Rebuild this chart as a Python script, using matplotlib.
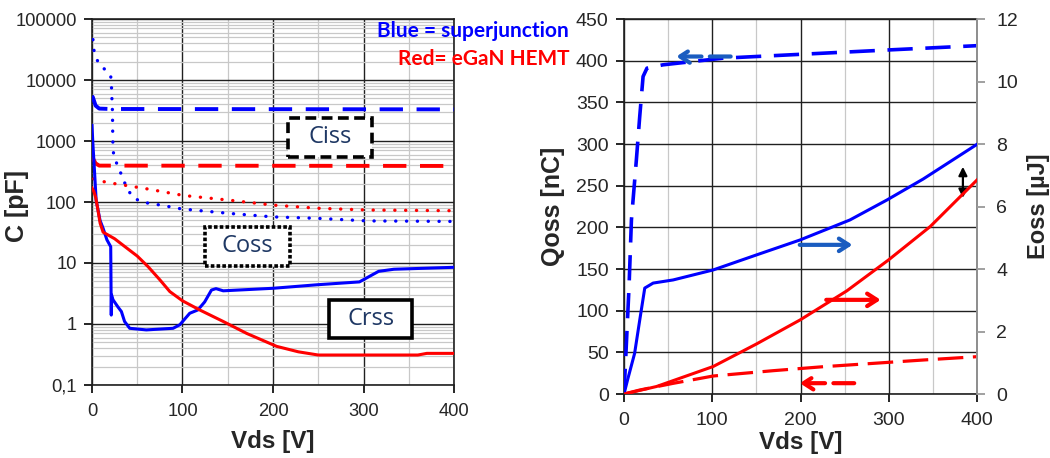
import numpy as np
import matplotlib
matplotlib.use("Agg")
import matplotlib.pyplot as plt
from matplotlib.patches import Rectangle

plt.rcParams['font.family'] = ['Liberation Sans', 'DejaVu Sans']

# ===== left chart: capacitances (log scale) =====
# Ciss
v_ciss_sj = [0, 1, 4, 8, 20, 400]
c_ciss_sj = [5500, 5200, 3800, 3400, 3350, 3300]
v_ciss_gan = [0, 1, 4, 8, 400]
c_ciss_gan = [550, 520, 430, 395, 390]
# Coss
v_coss_sj = [1.1, 1.5, 3.7, 7.4, 14, 20.6, 21.4, 21.8, 22.1, 22.5, 22.7, 23, 24, 29, 35.5,
             44, 54.5, 75.7, 99, 152, 200, 249, 304, 400]
c_coss_sj = [46000, 34000, 25000, 18700, 15000, 12000, 8900, 6300, 4600, 3450, 2450, 1000, 550,
             380, 215, 123, 100, 89, 77, 65, 57, 54, 49, 48]
v_coss_gan = [2, 6, 25, 59, 101, 152, 200, 249, 304, 400]
c_coss_gan = [240, 225, 200, 166, 128, 107, 89, 79, 74, 72]
# Crss
v_crss_sj = [0, 1, 2.5, 4.6, 8.9, 12.3, 16.5, 20.7, 21.3, 21.6, 23.2, 28.7, 32.5, 36, 41.7, 60,
             89.6, 97, 108, 117, 124.5, 132, 137, 145, 200, 249, 295.5, 316.7, 333.6, 400]
c_crss_sj = [1800, 900, 380, 107, 50, 37, 24, 18.5, 1.4, 3.0, 2.5, 1.9, 1.6, 1.1, 0.85, 0.8,
             0.85, 0.97, 1.5, 1.7, 2.3, 3.6, 3.8, 3.5, 3.85, 4.4, 4.9, 7.3, 7.9, 8.5]
v_crss_gan = [0, 2, 4, 6, 9, 12.3, 25, 42, 50, 62, 75, 86, 100, 119, 145, 171, 204, 228, 250,
              300, 360, 370, 400]
c_crss_gan = [170, 150, 120, 83, 45, 32, 25, 16, 13, 8.7, 5.3, 3.4, 2.4, 1.7, 1.1, 0.7, 0.43,
              0.35, 0.31, 0.31, 0.31, 0.33, 0.33]

c_ticks = [0.1, 1, 10, 100, 1000, 10000, 100000]
c_ticklabels = ['0,1', '1', '10', '100', '1000', '10000', '100000']

# ===== right chart: Qoss (left axis) and Eoss (right axis) =====
v_qoss_sj = [0, 2, 5.7, 8.4, 14, 17.8, 21.6, 26, 44, 112, 207, 302, 400]
q_qoss_sj = [0, 45, 129, 209, 281, 333, 381, 391, 395, 403, 408, 413, 418]
v_qoss_gan = [0, 17.8, 55.6, 101, 169, 226, 282.6, 339, 400]
q_qoss_gan = [0, 4.8, 12.8, 21.6, 28, 32.8, 36.8, 40.8, 44.8]
v_eoss_sj = [0, 4, 12, 18, 23.5, 33, 55.6, 101, 150, 199.5, 256, 298, 339, 400]
e_eoss_sj = [0, 0.45, 1.3, 2.4, 3.39, 3.55, 3.65, 3.97, 4.45, 4.93, 5.57, 6.21, 6.88, 7.99]
v_eoss_gan = [0, 36.8, 101, 150, 199.5, 252.4, 299.7, 347, 400]
e_eoss_gan = [0, 0.24, 0.88, 1.6, 2.37, 3.3, 4.29, 5.36, 6.85]

BLUE = '#0000ff'
RED = '#ff0000'
ARROW_BLUE = '#1a5cc0'
TICK_COLOR = '#262626'
BOX_TEXT = '#1f3864'

fig = plt.figure(figsize=(10.5, 4.58), dpi=100)

# ---------------- left ----------------
ax1 = fig.add_axes([0.0876, 0.1594, 0.3448, 0.7991])
ax1.set_yscale('log')
ax1.set_xlim(0, 400)
ax1.set_ylim(0.1, 100000)

ax1.plot(v_ciss_sj, c_ciss_sj, color=BLUE, lw=2.8, dashes=(6, 3.5), zorder=3)
ax1.plot(v_ciss_gan, c_ciss_gan, color=RED, lw=2.8, dashes=(6, 3.5), zorder=3)
ax1.plot(v_coss_sj, c_coss_sj, color=BLUE, lw=2.4, dashes=(0.05, 3.2), dash_capstyle='round', zorder=3)
ax1.plot(v_coss_gan, c_coss_gan, color=RED, lw=2.4, dashes=(0.05, 3.2), dash_capstyle='round', zorder=3)
ax1.plot(v_crss_sj, c_crss_sj, color=BLUE, lw=2.2, zorder=3)
ax1.plot(v_crss_gan, c_crss_gan, color=RED, lw=2.2, zorder=3)

ax1.set_xticks([0, 100, 200, 300, 400])
ax1.set_xticks([50, 150, 250, 350], minor=True)
ax1.set_yticks(c_ticks)
ax1.set_yticklabels(c_ticklabels)
ax1.yaxis.set_minor_locator(matplotlib.ticker.LogLocator(base=10, subs=np.arange(2, 10)))
ax1.yaxis.set_minor_formatter(matplotlib.ticker.NullFormatter())
ax1.grid(True, which='major', color='#202020', lw=1.0)
ax1.grid(True, which='minor', color='#c8c8c8', lw=0.9)
ax1.tick_params(which='major', direction='out', length=6, width=1.2, labelsize=13.2,
                labelcolor=TICK_COLOR, pad=5)
ax1.tick_params(which='minor', length=0)
ax1.tick_params(axis='x', pad=7)
for s in ax1.spines.values():
    s.set_color('#202020')
    s.set_linewidth(1.2)
ax1.set_ylabel('C [pF]', fontsize=18, fontweight='bold', color=TICK_COLOR)
ax1.yaxis.set_label_coords(-0.175, 0.49)
ax1.set_xlabel('Vds [V]', fontsize=17.5, fontweight='bold', color=TICK_COLOR, va='center')
ax1.xaxis.set_label_coords(0.5, -0.155)

# label boxes
boxes = [('Ciss', (0.541, 0.623), 0.232, 0.107, (0, (3, 1.5))),
         ('Coss', (0.3135, 0.326), 0.2325, 0.106, (0, (1, 0.6))),
         ('Crss', (0.655, 0.128), 0.23, 0.104, 'solid')]
for name, (bx, by), bw, bh, ls in boxes:
    ax1.add_patch(Rectangle((bx, by), bw, bh, transform=ax1.transAxes, fc='white', ec='black',
                            lw=2.6, ls=ls, zorder=5))
    ax1.text(bx + bw / 2, by + bh / 2, name, transform=ax1.transAxes, ha='center', va='center',
             fontsize=17, color=BOX_TEXT, family=['Open Sans', 'DejaVu Sans'], zorder=6)

# ---------------- right ----------------
ax2 = fig.add_axes([0.5943, 0.1397, 0.3362, 0.8188])
ax3 = ax2.twinx()
ax2.set_xlim(0, 400)
ax2.set_ylim(0, 450)
ax3.set_ylim(0, 12)

ax2.plot(v_qoss_sj, q_qoss_sj, color=BLUE, lw=2.6, dashes=(7, 3.5), zorder=3)
ax2.plot(v_qoss_gan, q_qoss_gan, color=RED, lw=2.3, dashes=(8, 3), zorder=3)
ax3.plot(v_eoss_sj, e_eoss_sj, color=BLUE, lw=2.2, zorder=3)
ax3.plot(v_eoss_gan, e_eoss_gan, color=RED, lw=2.2, zorder=3)

ax2.set_xticks([0, 100, 200, 300, 400])
ax2.set_xticks([50, 150, 250, 350], minor=True)
ax2.set_yticks(np.arange(0, 451, 50))
ax3.set_yticks(np.arange(0, 13, 2))
ax2.grid(True, which='major', color='#202020', lw=1.0)
ax2.grid(True, which='minor', axis='x', color='#c8c8c8', lw=0.9)
ax2.tick_params(which='major', direction='out', length=6, width=1.2, labelsize=14,
                labelcolor=TICK_COLOR, pad=5)
ax2.tick_params(axis='x', pad=7)
ax2.tick_params(which='minor', length=0)
ax3.tick_params(direction='out', length=6, width=1.2, labelsize=14, labelcolor=TICK_COLOR,
                color='#909090', pad=8)
for s in ax2.spines.values():
    s.set_color('#202020')
    s.set_linewidth(1.2)
for name, s in ax3.spines.items():
    s.set_visible(name == 'right')
ax3.spines['right'].set_color('#a0a0a0')
ax3.spines['right'].set_linewidth(1.2)

ax2.set_ylabel('Qoss [nC]', fontsize=18, fontweight='bold', color=TICK_COLOR)
ax2.yaxis.set_label_coords(-0.167, 0.5)
ax3.set_ylabel('Eoss [µJ]', fontsize=17, fontweight='bold', color=TICK_COLOR)
ax3.yaxis.set_label_coords(1.142, 0.5)
ax2.set_xlabel('Vds [V]', fontsize=17.5, fontweight='bold', color=TICK_COLOR, va='center')
ax2.xaxis.set_label_coords(0.5, -0.13)

# arrows showing which axis each curve belongs to
arrow_kw = dict(arrowstyle='->,head_length=0.7,head_width=0.45', lw=3)
ax2.annotate('', xy=(56, 405), xytext=(124, 405),
             arrowprops=dict(color=ARROW_BLUE, ls=(0, (5, 2)), **arrow_kw), zorder=4)
ax2.annotate('', xy=(262, 179), xytext=(196, 179),
             arrowprops=dict(color=ARROW_BLUE, **arrow_kw), zorder=4)
ax2.annotate('', xy=(294, 113), xytext=(226, 113),
             arrowprops=dict(color=RED, **arrow_kw), zorder=4)
ax2.annotate('', xy=(196, 13), xytext=(264, 13),
             arrowprops=dict(color=RED, ls=(0, (5, 2)), **arrow_kw), zorder=4)
ax2.annotate('', xy=(384, 276), xytext=(384, 232),
             arrowprops=dict(arrowstyle='<|-|>,head_length=0.5,head_width=0.25', lw=1.6,
                             color='black'), zorder=4)

# legend text
fig.text(377 / 1050, 1 - 31 / 458, 'Blue = superjunction', color=BLUE, fontsize=15,
         fontweight='bold', family=['Lato', 'DejaVu Sans'], ha='left', va='center', zorder=10)
fig.text(570 / 1050, 1 - 59 / 458, 'Red= eGaN HEMT', color=RED, fontsize=15,
         fontweight='bold', family=['Lato', 'DejaVu Sans'], ha='right', va='center', zorder=10)

fig.savefig('out.png', dpi=100, facecolor='white')
